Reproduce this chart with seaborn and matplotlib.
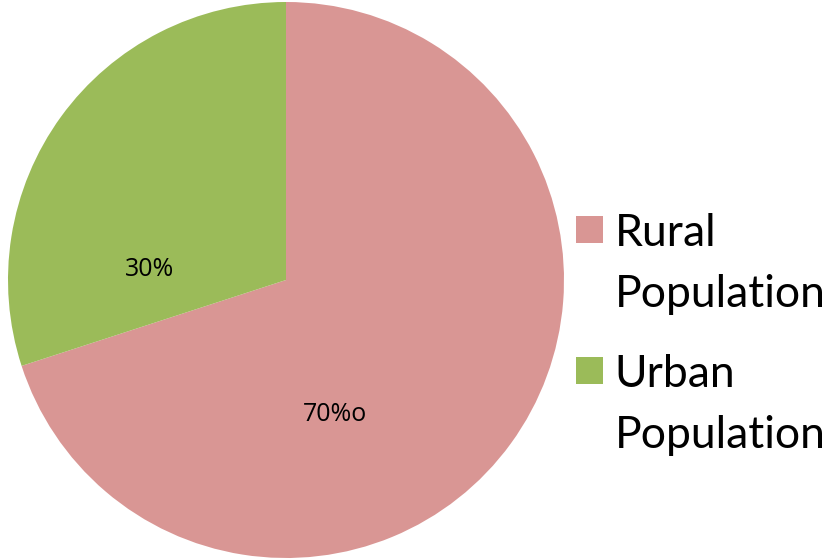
import matplotlib
matplotlib.use("Agg")
import matplotlib.pyplot as plt
import seaborn as sns
from matplotlib.patches import Rectangle
from matplotlib.legend_handler import HandlerPatch

categories = ["Rural\nPopulation", "Urban\nPopulation"]
shares = [70, 30]
pct_labels = ["70%o", "30%"]
colors = ["#D99694", "#9BBB59"]

sns.set_theme(style="white")
plt.rcParams["font.family"] = ["Lato", "DejaVu Sans"]
plt.rcParams["text.color"] = "black"

fig = plt.figure(figsize=(8.26, 5.6), dpi=100)
fig.patch.set_facecolor("white")

# pie: centre ~ (287, 280) px, radius ~ 278 px
ax = fig.add_axes([8 / 826, 2 / 560, 556 / 826, 556 / 560])
wedges, _ = ax.pie(shares, colors=colors, startangle=90, counterclock=False,
                   radius=1, wedgeprops=dict(linewidth=0))
ax.set_xlim(-1, 1)
ax.set_ylim(-1, 1)

label_pos = [(0.176, -0.507), (-0.489, 0.014)]
for txt, (x, y) in zip(pct_labels, label_pos):
    ax.text(x, y, txt, ha="center", va="baseline", fontsize=18,
            color="black", family=["Open Sans", "DejaVu Sans"])


# square marker sitting on the first text line
def top_square(legend, orig_handle, xdescent, ydescent, width, height, fontsize):
    s = 0.60 * fontsize
    y0 = 0.85 * fontsize
    return Rectangle((-xdescent, y0), s, s)


leg = fig.legend(wedges, categories, loc="upper left",
                 bbox_to_anchor=(576 / 826, 1 - 213 / 560),
                 frameon=False, fontsize=32, borderpad=0, borderaxespad=0,
                 handlelength=0.6, handleheight=0.6, handletextpad=0.27,
                 labelspacing=0.87, labelcolor="black",
                 handler_map={w: HandlerPatch(patch_func=top_square) for w in wedges})
for t in leg.get_texts():
    t.set_linespacing(1.61)

fig.savefig("out.png", dpi=100, facecolor="white")
